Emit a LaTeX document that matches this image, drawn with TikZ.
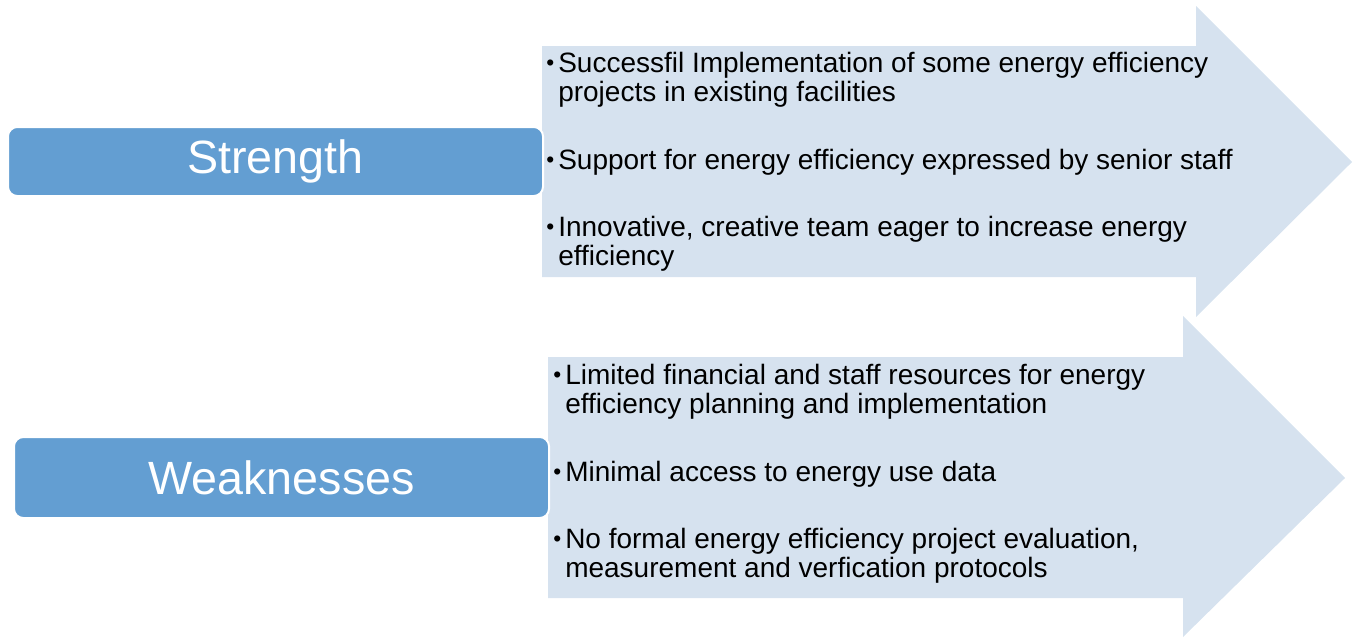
\documentclass[tikz,border=0pt]{standalone}
\usepackage{fontspec}
\setmainfont{Liberation Sans}
\definecolor{boxblue}{RGB}{99,158,210}
\definecolor{arrowblue}{RGB}{214,226,239}
% small bullet hung to the left of the first line
\newcommand{\itembullet}{\llap{\raisebox{1.6pt}{\fontsize{17}{17}\selectfont •}\hspace{3pt}}}
\begin{document}
\begin{tikzpicture}[x=0.75pt,y=-0.75pt,
  headbox/.style={draw=white,line width=1.5pt,fill=boxblue,rounded corners=7pt,
    text=white,font=\fontsize{35}{40}\selectfont,inner sep=0pt},
  bigarrow/.style={fill=arrowblue,draw=none},
  item/.style={anchor=north west,align=left,inner sep=0pt,
    font=\fontsize{21}{22}\selectfont,text=black}]
\useasboundingbox (0,0) rectangle (1357,637);
% block arrows
\path[bigarrow] (542,46) -- (1196,46) -- (1196,6) -- (1352,162) -- (1196,317)
  -- (1196,277) -- (542,277) -- cycle;
\path[bigarrow] (548,357) -- (1183,357) -- (1183,316) -- (1345,478) -- (1183,637)
  -- (1183,598) -- (548,598) -- cycle;
% heading boxes
\node[headbox,minimum width=535pt*0.75,minimum height=69pt*0.75] (strength) at (275.5,161.5) {Strength};
\node[headbox,minimum width=535pt*0.75,minimum height=81pt*0.75] (weak) at (281.5,477.5) {Weaknesses};
% strength items
\node[item] (s1) at (558,52) {\itembullet Successfil Implementation of some energy efficiency\\projects in existing facilities};
\node[item] (s2) at (558,149) {\itembullet Support for energy efficiency expressed by senior staff};
\node[item] (s3) at (558,216) {\itembullet Innovative, creative team eager to increase energy\\efficiency};
% weakness items
\node[item] (w1) at (565,364) {\itembullet Limited financial and staff resources for energy\\efficiency planning and implementation};
\node[item] (w2) at (565,461) {\itembullet Minimal access to energy use data};
\node[item] (w3) at (565,528) {\itembullet No formal energy efficiency project evaluation,\\measurement and verfication protocols};
\end{tikzpicture}
\end{document}
